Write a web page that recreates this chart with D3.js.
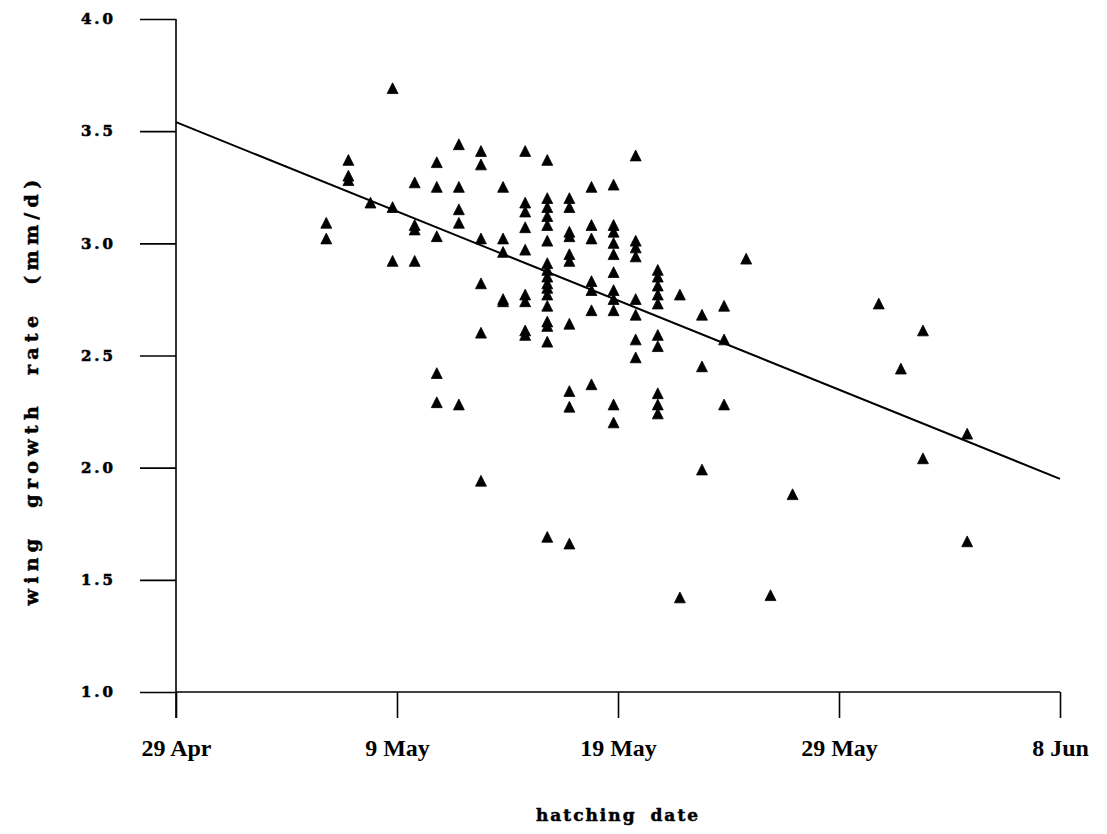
<!DOCTYPE html>
<html>
<head>
<meta charset="utf-8">
<script src="https://cdn.jsdelivr.net/npm/d3@7"></script>
<style>
  html, body { margin: 0; padding: 0; background: #fff; }
  svg { display: block; }
</style>
</head>
<body>
<svg id="chart" width="1107" height="834"></svg>
<script>
// ---- data (hatching day counted from 29 Apr, wing growth rate in mm/d) ----
const tickDays = [0, 10, 20, 30, 40];
const tickLabels = ["29 Apr", "9 May", "19 May", "29 May", "8 Jun"];
const yTicks = [1.0, 1.5, 2.0, 2.5, 3.0, 3.5, 4.0];

const hatchDays = [
  6.8, 6.8,
  7.8, 7.8, 7.8,
  8.8,
  9.8, 9.8, 9.8,
  10.8, 10.8, 10.8, 10.8,
  11.8, 11.8, 11.8, 11.8, 11.8,
  12.8, 12.8, 12.8, 12.8, 12.8,
  13.8, 13.8, 13.8, 13.8, 13.8, 13.8,
  14.8, 14.8, 14.8, 14.8, 14.8,
  15.8, 15.8, 15.8, 15.8, 15.8, 15.8, 15.8, 15.8, 15.8,
  16.8, 16.8, 16.8, 16.8, 16.8, 16.8, 16.8, 16.8, 16.8, 16.8, 16.8, 16.8, 16.8, 16.8, 16.8, 16.8, 16.8,
  17.8, 17.8, 17.8, 17.8, 17.8, 17.8, 17.8, 17.8, 17.8, 17.8,
  18.8, 18.8, 18.8, 18.8, 18.8, 18.8, 18.8,
  19.8, 19.8, 19.8, 19.8, 19.8, 19.8, 19.8, 19.8, 19.8, 19.8, 19.8,
  20.8, 20.8, 20.8, 20.8, 20.8, 20.8, 20.8, 20.8,
  21.8, 21.8, 21.8, 21.8, 21.8, 21.8, 21.8, 21.8, 21.8, 21.8,
  22.8, 22.8,
  23.8, 23.8, 23.8,
  24.8, 24.8, 24.8,
  25.8,
  26.9,
  27.9,
  31.8,
  32.8,
  33.8, 33.8,
  35.8, 35.8
];
const growthRates = [
  3.09, 3.02,
  3.37, 3.30, 3.28,
  3.18,
  3.69, 3.16, 2.92,
  3.27, 3.08, 3.06, 2.92,
  3.36, 3.25, 3.03, 2.42, 2.29,
  3.44, 3.25, 3.15, 3.09, 2.28,
  3.41, 3.35, 3.02, 2.82, 2.60, 1.94,
  3.25, 3.02, 2.96, 2.75, 2.74,
  3.41, 3.18, 3.14, 3.07, 2.97, 2.77, 2.74, 2.61, 2.59,
  3.37, 3.20, 3.16, 3.12, 3.08, 3.01, 2.91, 2.88, 2.85, 2.82, 2.80, 2.77, 2.72, 2.65, 2.63, 2.56, 1.69,
  3.20, 3.16, 3.05, 3.03, 2.95, 2.92, 2.64, 2.34, 2.27, 1.66,
  3.25, 3.08, 3.02, 2.83, 2.79, 2.70, 2.37,
  3.26, 3.08, 3.05, 3.00, 2.95, 2.87, 2.79, 2.75, 2.70, 2.28, 2.20,
  3.39, 3.01, 2.98, 2.94, 2.75, 2.68, 2.57, 2.49,
  2.88, 2.85, 2.81, 2.77, 2.73, 2.59, 2.54, 2.33, 2.28, 2.24,
  2.77, 1.42,
  2.68, 2.45, 1.99,
  2.72, 2.57, 2.28,
  2.93,
  1.43,
  1.88,
  2.73,
  2.44,
  2.61, 2.04,
  2.15, 1.67
];

// regression line end points
const fitDays = [0, 40];
const fitRates = [3.54, 1.95];

// ---- drawing ----
const svg = d3.select("#chart");
const x = d3.scaleLinear().domain([0, 40]).range([176, 1060]);
const y = d3.scaleLinear().domain([1, 4]).range([692, 19]);

// y axis
const yAxis = svg.append("g")
  .attr("transform", "translate(176,0)")
  .call(d3.axisLeft(y).tickValues(yTicks).tickSize(36).tickPadding(24).tickFormat(d3.format(".1f")));
yAxis.select(".domain").attr("d", "M0," + y(4) + "V718").attr("stroke", "#000").attr("stroke-width", 1.6);
yAxis.selectAll(".tick line").attr("stroke", "#000").attr("stroke-width", 1.6);
yAxis.selectAll(".tick text")
  .attr("fill", "#000")
  .attr("stroke", "#000")
  .attr("stroke-width", 0.6)
  .style("font-family", "'DejaVu Serif', serif")
  .style("font-weight", "bold")
  .style("font-size", "15px")
  .style("letter-spacing", "3px");

// x axis
const xAxis = svg.append("g")
  .attr("transform", "translate(0,692)")
  .call(d3.axisBottom(x).tickValues(tickDays).tickSize(26).tickPadding(21)
    .tickFormat((d, i) => tickLabels[i]));
xAxis.select(".domain").attr("d", "M" + x(0) + ",0H" + x(40)).attr("stroke", "#000").attr("stroke-width", 1.6);
xAxis.selectAll(".tick line").attr("stroke", "#000").attr("stroke-width", 1.6);
xAxis.selectAll(".tick text")
  .attr("fill", "#000")
  .style("font-family", "'Liberation Serif', 'Times New Roman', serif")
  .style("font-weight", "bold")
  .style("font-size", "24px");

// axis titles
svg.append("text")
  .attr("x", 618).attr("y", 821)
  .attr("text-anchor", "middle")
  .attr("stroke", "#000")
  .attr("stroke-width", 0.5)
  .style("font-family", "'DejaVu Serif', serif")
  .style("font-weight", "bold")
  .style("font-size", "17px")
  .style("letter-spacing", "2px")
  .style("word-spacing", "6px")
  .text("hatching date");

svg.append("text")
  .attr("transform", "translate(38,390) rotate(-90)")
  .attr("text-anchor", "middle")
  .attr("stroke", "#000")
  .attr("stroke-width", 0.5)
  .style("font-family", "'DejaVu Serif', serif")
  .style("font-weight", "bold")
  .style("font-size", "19px")
  .style("letter-spacing", "5.3px")
  .style("word-spacing", "14px")
  .text("wing growth rate (mm/d)");

// regression line
const fit = fitDays.map((d, i) => ({ d: d, r: fitRates[i] }));
svg.append("path")
  .datum(fit)
  .attr("fill", "none")
  .attr("stroke", "#000")
  .attr("stroke-width", 2)
  .attr("d", d3.line().x(p => x(p.d)).y(p => y(p.r)));

// triangle markers
const tri = {
  draw(ctx, size) {
    const h = Math.sqrt(size);
    ctx.moveTo(0, -h * 0.55);
    ctx.lineTo(h * 0.52, h * 0.48);
    ctx.lineTo(-h * 0.52, h * 0.48);
    ctx.closePath();
  }
};
const pts = hatchDays.map((d, i) => ({ d: d, r: growthRates[i] }));
svg.append("g").selectAll("path")
  .data(pts)
  .join("path")
  .attr("transform", p => "translate(" + x(p.d) + "," + y(p.r) + ")")
  .attr("d", d3.symbol().type(tri).size(110))
  .attr("fill", "#000")
  .attr("stroke", "#000")
  .attr("stroke-width", 0.8)
  .attr("stroke-linejoin", "round");
</script>
</body>
</html>
